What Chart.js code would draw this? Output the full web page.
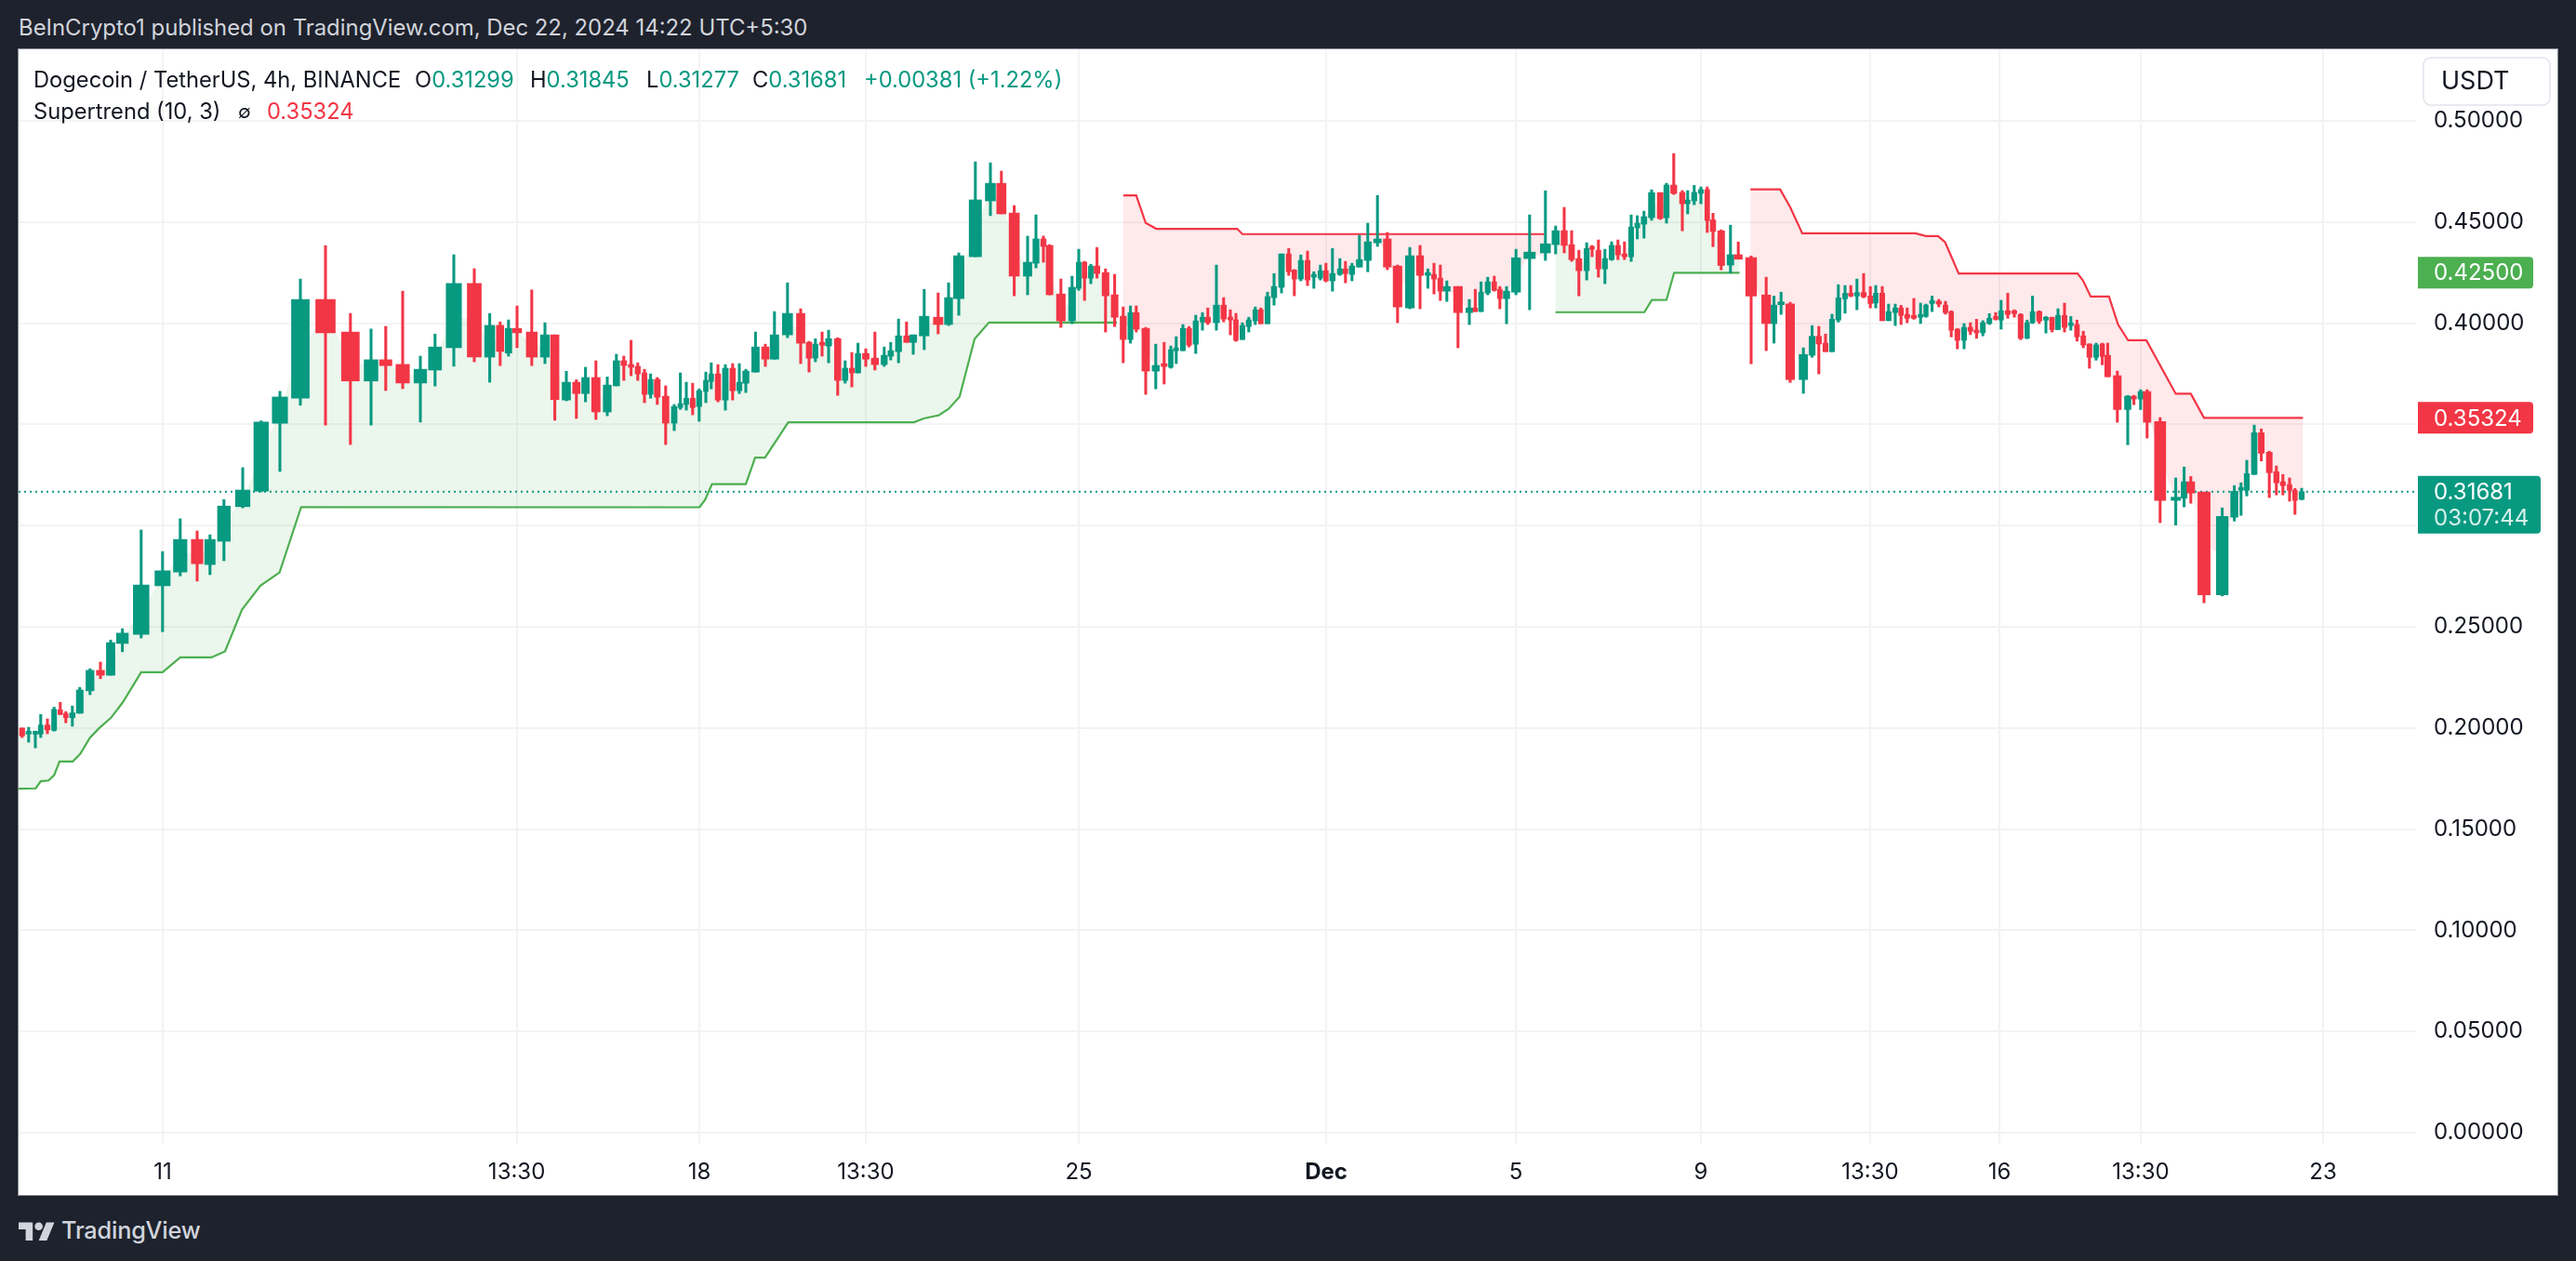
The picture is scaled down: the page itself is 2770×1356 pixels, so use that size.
<!DOCTYPE html>
<html>
<head>
<meta charset="utf-8">
<title>Dogecoin / TetherUS</title>
<script src="https://cdn.jsdelivr.net/npm/chart.js@4"></script>
<style>
  html, body { margin: 0; padding: 0; width: 2770px; height: 1356px; overflow: hidden; background: #1e222d; font-family: Inter, sans-serif; }
  #topline { position: absolute; left: 20px; top: 15px; font-size: 23.9px; line-height: 30px; color: #d1d4dc; white-space: nowrap; }
  #panel { position: absolute; left: 20px; top: 53px; width: 2730px; height: 1232px; background: #fff; box-shadow: 0 0 0 1px #868993; }
  #panel canvas { position: absolute; left: 0; top: 0; }
  .lg { position: absolute; font-size: 23.7px; line-height: 30px; color: #131722; white-space: nowrap; }
  .up { color: #089981; }
  .dn { color: #f23645; }
  #brand { position: absolute; left: 20px; top: 1306px; height: 34px; color: #d1d4dc; font-size: 25.3px; font-weight: 500; line-height: 34px; }
  #brand svg { position: absolute; left: 0; top: 4px; }
  #brand span { position: absolute; left: 46px; top: 0; letter-spacing: -0.2px; }
</style>
</head>
<body>
<div id="topline">BeInCrypto1 published on TradingView.com, Dec 22, 2024 14:22 UTC+5:30</div>
<div id="panel">
  <canvas id="chart" width="2730" height="1232"></canvas>
  <div class="lg" style="left:16px;top:18px">Dogecoin / TetherUS, 4h, BINANCE</div>
  <div class="lg" style="left:426px;top:18px">O<span class="up">0.31299</span></div>
  <div class="lg" style="left:550px;top:18px">H<span class="up">0.31845</span></div>
  <div class="lg" style="left:675px;top:18px">L<span class="up">0.31277</span></div>
  <div class="lg" style="left:789px;top:18px">C<span class="up">0.31681</span></div>
  <div class="lg up" style="left:909px;top:18px">+0.00381 (+1.22%)</div>
  <div class="lg" style="left:16px;top:52px">Supertrend (10, 3)</div>
  <div class="lg" style="left:236px;top:52px;font-size:20px">∅</div>
  <div class="lg dn" style="left:267px;top:52px">0.35324</div>
</div>
<div id="brand">
  <svg width="39" height="25" viewBox="0 0 36 23" fill="#d1d4dc"><path d="M14 22H7V11H0V4h14v18zM28 22h-8l7.5-18h8L28 22z"/><circle cx="20" cy="8" r="4"/></svg>
  <span>TradingView</span>
</div>
<script>
// Time axis is not even on this chart, so bars sit at read-off positions along it
const barPos = [
  1.9,5.4,9.0,11.9,15.5,19.1,22.4,25.4,28.9,32.9,
  38.4,44.0,49.5,55.8,65.9,77.4,86.9,96.0,102.9,110.4,
  120.5,130.4,140.5,151.5,165.0,178.4,189.5,197.4,206.5,216.0,
  223.9,234.0,245.0,253.3,258.9,263.4,268.0,275.9,283.0,288.3,
  294.5,299.9,304.8,310.4,316.5,321.4,325.4,329.3,332.9,336.5,
  339.8,343.4,347.9,352.5,355.8,359.0,362.4,365.9,369.5,372.4,
  376.0,380.0,383.9,387.5,391.0,396.2,401.5,406.4,413.4,420.5,
  425.0,428.4,432.0,435.5,440.4,444.4,448.0,451.3,455.5,460.4,
  465.4,468.9,473.1,477.4,481.0,486.9,494.4,500.0,505.5,514.4,
  522.5,528.4,535.3,542.5,547.0,551.0,554.3,560.4,566.4,570.0,
  573.1,576.5,579.8,584.4,589.3,593.9,597.8,600.9,606.0,611.4,
  615.9,619.5,622.4,626.0,629.3,632.9,636.5,639.4,644.0,647.9,
  651.5,654.5,658.0,661.4,664.9,667.9,671.5,675.0,679.0,682.9,
  685.9,689.4,693.0,696.4,699.9,702.9,706.4,710.4,713.4,716.9,
  720.9,725.4,730.6,735.9,741.4,748.0,753.5,757.7,761.0,764.4,
  767.9,773.9,780.0,783.2,786.3,789.9,793.4,796.4,800.0,805.1,
  812.4,820.9,826.4,831.0,835.0,838.9,843.1,846.0,849.4,852.9,
  856.5,859.9,863.4,867.0,870.3,873.9,878.0,882.6,886.0,889.9,
  894.5,897.4,900.9,904.5,907.9,911.0,915.4,920.4,924.6,931.5,
  939.6,943.8,947.6,952.5,959.6,964.3,967.9,971.5,975.0,978.4,
  982.0,985.1,988.4,992.0,995.6,998.5,1002.0,1005.4,1009.0,1012.1,
  1015.4,1019.0,1022.6,1025.5,1028.8,1032.4,1036.0,1039.1,1042.4,1046.0,
  1049.4,1052.7,1056.1,1059.6,1063.0,1065.9,1069.5,1073.0,1076.4,1079.9,
  1082.8,1086.4,1090.0,1093.3,1096.5,1100.0,1103.4,1106.7,1110.1,1113.4,
  1117.0,1120.3,1123.2,1128.4,1134.0,1137.3,1140.9,1144.4,1151.4,1159.8,
  1164.3,1167.9,1175.0,1184.8,1191.3,1194.9,1198.0,1202.0,1205.8,1210.1,
  1213.9,1217.4,1221.0,1223.9,1227.5
];

const opens = [
  .1995,.1965,.1965,.1965,.2010,.1984,.2085,.2066,.2046,.2068,
  .2179,.2280,.2256,.2413,.2458,.2698,.2766,.2927,.2803,.2918,
  .3089,.3166,.3501,.3625,.4113,.3952,.3710,.3815,.3792,.3700,
  .3764,.3875,.4192,.3828,.3985,.3848,.3970,.3952,.3828,.3938,
  .3616,.3704,.3648,.3727,.3557,.3686,.3810,.3791,.3782,.3750,
  .3644,.3718,.3635,.3502,.3579,.3594,.3625,.3584,.3658,.3708,
  .3745,.3616,.3773,.3662,.3699,.3754,.3878,.3818,.3938,.4044,
  .3901,.3823,.3897,.3883,.3919,.3713,.3773,.3750,.3846,.3823,
  .3791,.3833,.3855,.3933,.3901,.3933,.4025,.3989,.4117,.4324,
  .4600,.4687,.4540,.4228,.4292,.4412,.4380,.4140,.4007,.4168,
  .4297,.4218,.4278,.4246,.4136,.4030,.3915,.4048,.3970,.3759,
  .3791,.3778,.3860,.3860,.3970,.3892,.4002,.4025,.3998,.4085,
  .4021,.4012,.3915,.3979,.4007,.4062,.3993,.4122,.4173,.4338,
  .4258,.4214,.4306,.4223,.4218,.4255,.4205,.4237,.4264,.4237,
  .4273,.4306,.4393,.4412,.4278,.4071,.4329,.4232,.4237,.4218,
  .4154,.4177,.4048,.4071,.4053,.4145,.4200,.4163,.4117,.4149,
  .4315,.4343,.4384,.4453,.4384,.4315,.4255,.4370,.4356,.4264,
  .4310,.4380,.4338,.4324,.4467,.4485,.4517,.4641,.4517,.4678,
  .4642,.4586,.4600,.4637,.4656,.4506,.4452,.4283,.4334,.4320,
  .4135,.3994,.4087,.4091,.3717,.3837,.3931,.3897,.3855,.4011,
  .4116,.4143,.4130,.4147,.4130,.4095,.4144,.4008,.4048,.4071,
  .4039,.4029,.4025,.4029,.4093,.4099,.4085,.4053,.3966,.3911,
  .3975,.3961,.3948,.3994,.4025,.4011,.4057,.4048,.4039,.3921,
  .3998,.4053,.4011,.4025,.3964,.4034,.3984,.3989,.3933,.3893,
  .3827,.3893,.3837,.3736,.3569,.3635,.3621,.3658,.3510,.3120,
  .3131,.3212,.3161,.2653,.3037,.3170,.3170,.3248,.3454,.3358,
  .3262,.3212,.3198,.3170,.3125
];

const closes = [
  .1957,.1971,.1971,.2010,.1986,.2087,.2062,.2046,.2070,.2183,
  .2280,.2256,.2417,.2464,.2702,.2772,.2927,.2807,.2927,.3092,
  .3171,.3507,.3631,.4113,.3948,.3710,.3815,.3786,.3700,.3768,
  .3878,.4192,.3828,.3985,.3856,.3970,.3948,.3828,.3938,.3618,
  .3704,.3648,.3727,.3557,.3690,.3810,.3787,.3778,.3745,.3644,
  .3718,.3630,.3502,.3584,.3598,.3625,.3579,.3662,.3713,.3745,
  .3616,.3773,.3662,.3704,.3759,.3878,.3818,.3938,.4044,.3897,
  .3823,.3892,.3887,.3919,.3713,.3773,.3750,.3846,.3818,.3791,
  .3837,.3860,.3933,.3901,.3938,.4030,.3989,.4122,.4329,.4605,
  .4687,.4536,.4228,.4297,.4412,.4375,.4136,.4007,.4173,.4297,
  .4218,.4278,.4241,.4131,.4025,.3915,.4048,.3966,.3759,.3787,
  .3782,.3865,.3869,.3970,.3887,.4007,.4025,.3998,.4085,.4016,
  .4012,.3911,.3984,.4012,.4062,.3993,.4127,.4177,.4338,.4250,
  .4214,.4306,.4209,.4228,.4255,.4205,.4241,.4264,.4241,.4278,
  .4310,.4398,.4412,.4273,.4076,.4329,.4232,.4241,.4214,.4154,
  .4177,.4048,.4071,.4053,.4149,.4200,.4158,.4117,.4154,.4319,
  .4347,.4388,.4453,.4380,.4310,.4255,.4365,.4361,.4264,.4315,
  .4380,.4333,.4324,.4471,.4490,.4522,.4641,.4513,.4678,.4637,
  .4586,.4604,.4642,.4656,.4503,.4449,.4281,.4334,.4312,.4130,
  .3994,.4085,.4095,.3717,.3841,.3931,.3893,.3855,.4015,.4121,
  .4143,.4130,.4147,.4126,.4093,.4144,.4008,.4053,.4071,.4034,
  .4020,.4020,.4034,.4085,.4099,.4090,.4048,.3961,.3911,.3975,
  .3956,.3948,.3998,.4020,.4015,.4057,.4039,.4043,.3921,.3998,
  .4053,.4006,.4025,.3964,.4034,.3975,.3994,.3928,.3888,.3827,
  .3888,.3832,.3731,.3569,.3635,.3621,.3658,.3506,.3120,.3136,
  .3212,.3156,.2653,.3041,.3165,.3178,.3252,.3454,.3353,.3257,
  .3207,.3193,.3170,.3120,.3163
];

const highs = [
  .1995,.1999,.1980,.2062,.2040,.2098,.2122,.2076,.2104,.2196,
  .2288,.2321,.2430,.2486,.2974,.2867,.3029,.2969,.2950,.3124,
  .3282,.3513,.3659,.4214,.4379,.4044,.3967,.3980,.4154,.3833,
  .3942,.4334,.4265,.4044,.4002,.4012,.4081,.4160,.3998,.3938,
  .3758,.3716,.3778,.3810,.3730,.3842,.3833,.3911,.3800,.3768,
  .3745,.3727,.3686,.3594,.3750,.3704,.3699,.3671,.3754,.3800,
  .3791,.3791,.3796,.3796,.3768,.3952,.3892,.4053,.4195,.4067,
  .3906,.3919,.3952,.3961,.3924,.3810,.3851,.3897,.3869,.3952,
  .3878,.3901,.4016,.4002,.3938,.4163,.4145,.4195,.4343,.4793,
  .4788,.4747,.4577,.4426,.4531,.4426,.4384,.4214,.4228,.4361,
  .4301,.4287,.4370,.4264,.4237,.4076,.4081,.4081,.3975,.3892,
  .3901,.3883,.3929,.3989,.3979,.4035,.4048,.4071,.4283,.4122,
  .4062,.4044,.3998,.4025,.4076,.4071,.4149,.4241,.4338,.4365,
  .4261,.4333,.4352,.4250,.4283,.4292,.4365,.4315,.4301,.4292,
  .4430,.4490,.4627,.4444,.4283,.4370,.4380,.4264,.4292,.4283,
  .4205,.4177,.4113,.4163,.4200,.4223,.4228,.4177,.4177,.4361,
  .4531,.4650,.4476,.4568,.4453,.4356,.4393,.4380,.4407,.4361,
  .4398,.4407,.4398,.4531,.4527,.4549,.4655,.4641,.4687,.4834,
  .4651,.4651,.4677,.4669,.4669,.4539,.4457,.4480,.4397,.4328,
  .4223,.4130,.4149,.4099,.3874,.3984,.3980,.3942,.4040,.4186,
  .4182,.4182,.4214,.4241,.4177,.4182,.4177,.4090,.4090,.4084,
  .4071,.4118,.4095,.4090,.4130,.4113,.4104,.4057,.3970,.3994,
  .3998,.4015,.4008,.4043,.4048,.4109,.4144,.4062,.4043,.4011,
  .4130,.4057,.4029,.4025,.4067,.4095,.4029,.4011,.3956,.3893,
  .3897,.3897,.3897,.3759,.3639,.3639,.3667,.3667,.3529,.3231,
  .3285,.3238,.3161,.3083,.3193,.3207,.3318,.3492,.3473,.3363,
  .3290,.3248,.3231,.3179,.3180
];

const lows = [
  .1948,.1925,.1897,.1948,.1967,.1980,.2062,.2021,.2004,.2068,
  .2160,.2239,.2256,.2372,.2440,.2471,.2747,.2721,.2753,.2822,
  .3083,.3162,.3263,.3590,.3492,.3396,.3492,.3663,.3672,.3507,
  .3685,.3783,.3805,.3704,.3786,.3833,.3875,.3786,.3796,.3516,
  .3612,.3525,.3607,.3520,.3538,.3686,.3713,.3736,.3713,.3603,
  .3625,.3594,.3396,.3465,.3570,.3566,.3543,.3511,.3603,.3671,
  .3607,.3566,.3616,.3648,.3653,.3754,.3782,.3818,.3924,.3796,
  .3754,.3805,.3833,.3800,.3639,.3699,.3681,.3750,.3782,.3764,
  .3782,.3814,.3800,.3901,.3842,.3865,.3943,.3984,.4035,.4324,
  .4527,.4536,.4131,.4136,.4269,.4297,.4136,.3975,.3993,.4158,
  .4108,.4191,.4218,.3952,.3979,.3800,.3897,.3952,.3644,.3671,
  .3695,.3773,.3796,.3860,.3878,.3846,.3961,.3989,.3961,.4002,
  .3938,.3906,.3915,.3952,.3989,.3993,.3993,.4085,.4145,.4232,
  .4131,.4205,.4182,.4168,.4209,.4200,.4154,.4232,.4195,.4205,
  .4273,.4250,.4375,.4260,.3998,.4067,.4067,.4168,.4140,.4108,
  .4103,.3874,.3989,.4053,.4053,.4136,.4154,.4067,.3993,.4136,
  .4062,.4306,.4338,.4343,.4301,.4131,.4209,.4324,.4223,.4191,
  .4306,.4310,.4310,.4301,.4412,.4416,.4504,.4508,.4490,.4632,
  .4452,.4536,.4581,.4586,.4444,.4374,.4259,.4244,.4312,.3795,
  .3860,.3897,.4039,.3703,.3649,.3827,.3745,.3855,.3855,.4001,
  .4045,.4126,.4062,.4121,.4071,.4071,.4008,.4008,.3984,.3989,
  .3998,.4015,.3994,.4025,.4053,.4076,.4040,.3928,.3869,.3869,
  .3939,.3921,.3933,.3989,.4011,.3966,.4020,.4025,.3914,.3919,
  .3994,.3994,.3947,.3952,.3964,.3952,.3961,.3907,.3874,.3773,
  .3813,.3790,.3731,.3506,.3395,.3593,.3569,.3428,.3010,.2998,
  .3088,.3106,.2614,.2648,.3018,.3046,.3142,.3248,.3315,.3134,
  .3147,.3147,.3116,.3051,.3123
];

/*--------------------- Supertrend (10, 3), one pair of lists per run ---------------------*/
const upRun1Pos = [0,9.2,11.9,16.1,19.1,22.0,29.1,33.1,38.4,43.4,49.7,56.0,65.9,77.4,86.9,103.7,111.0,120.1,130.0,140.3,151.9,366.1,369.1,372.8,391.0,396.0,401.3,413.8,481.4,486.7,494.8,500.0,505.9,514.0,521.7,590.5];
const upRun1Val = [.1695,.1697,.1732,.1736,.1762,.1830,.1830,.1867,.1948,.1995,.2046,.2122,.2271,.2271,.2344,.2344,.2374,.2580,.2698,.2764,.3087,.3086,.3123,.3200,.3200,.3331,.3331,.3506,.3506,.3525,.3541,.3572,.3632,.3918,.3999,.3999];
const downRun1Pos = [594.0,600.9,606.0,611.7,655.2,658.0,820.3];
const downRun1Val = [.4627,.4627,.4491,.4462,.4462,.4436,.4436];
const upRun2Pos = [826.3,874.1,878.1,886.0,890.1,925.3];
const upRun2Val = [.4050,.4050,.4110,.4111,.4245,.4245];
const downRun2Pos = [931.1,947.1,952.5,959.0,1019.9,1025.5,1032.0,1035.8,1043.1,1107.0,1109.9,1114.1,1123.9,1128.8,1134.2,1144.0,1159.8,1167.9,1175.0,1228.2];
const downRun2Val = [.4657,.4657,.4569,.4440,.4440,.4426,.4426,.4396,.4241,.4241,.4207,.4127,.4127,.3989,.3911,.3911,.3647,.3647,.3528,.3528];

// prices above were read against a grid line one pixel off
const readShift = 0.00046;

const priceTicks = [0,.05,.10,.15,.20,.25,.30,.35,.40,.45,.50];
const dateTickPos = [77.5,267.8,366,455.5,570,703,805,904.5,995.5,1065,1141,1239];
const dateLabels = ['11','13:30','18','13:30','25','Dec','5','9','13:30','16','13:30','23'];

const lastClose = 0.31681;
const countdown = '03:07:44';
const lastTrendUp = 0.425;
const lastTrendDown = 0.35324;

const UP = '#089981';
const DOWN = '#f23645';
const TREND_UP = '#4caf50';
const GRID = '#f3f3f4';

const isUp = i => closes[i] >= opens[i];
const candleColor = ctx => isUp(ctx.dataIndex) ? UP : DOWN;

const datasets = [];

// one supertrend run plus the hidden body-middle line its band fills up to
function addTrendRun(posList, valList, color, band) {
  const first = posList[0];
  const last = posList[posList.length - 1];
  const inside = barPos.map((x, i) => i).filter(i => barPos[i] >= first && barPos[i] <= last);
  const mid = i => (opens[i] + closes[i]) / 2 + readShift;
  const midPoints = inside.map(i => ({ x: barPos[i], y: mid(i) }));
  midPoints.unshift({ x: first, y: mid(inside[0]) });
  midPoints.push({ x: last, y: mid(inside[inside.length - 1]) });

  const midIndex = datasets.length;
  datasets.push({
    type: 'line', data: midPoints, order: 6,
    borderColor: 'transparent', borderWidth: 0, pointRadius: 0, fill: false
  });
  datasets.push({
    type: 'line', order: 5,
    data: posList.map((x, i) => ({ x: x, y: valList[i] + readShift })),
    borderColor: color, borderWidth: 2.2, pointRadius: 0, tension: 0,
    backgroundColor: band, fill: midIndex
  });
}

addTrendRun(upRun1Pos, upRun1Val, TREND_UP, 'rgba(76,175,80,0.11)');
addTrendRun(downRun1Pos, downRun1Val, DOWN, 'rgba(242,54,69,0.11)');
addTrendRun(upRun2Pos, upRun2Val, TREND_UP, 'rgba(76,175,80,0.11)');
addTrendRun(downRun2Pos, downRun2Val, DOWN, 'rgba(242,54,69,0.11)');

// last price line
datasets.push({
  type: 'line', order: 3,
  data: [{ x: 0, y: lastClose }, { x: 1289, y: lastClose }],
  borderColor: UP, borderWidth: 2, borderDash: [2, 4], pointRadius: 0, fill: false
});

// wicks, then bodies
datasets.push({
  type: 'bar', order: 2, grouped: false, barThickness: 2.4,
  data: barPos.map((x, i) => ({ x: x, y: [lows[i] + readShift, highs[i] + readShift] })),
  backgroundColor: candleColor, borderWidth: 0
});
const bodyIndex = datasets.length;
datasets.push({
  type: 'bar', order: 1, grouped: false, barThickness: 6, minBarLength: 3,
  data: barPos.map((x, i) => ({ x: x, y: [opens[i] + readShift, closes[i] + readShift] })),
  backgroundColor: candleColor, borderWidth: 0
});

// bars here get wider where the axis gives them more room
const bodyWidths = {
  id: 'bodyWidths',
  afterDatasetsUpdate(chart) {
    const scale = chart.scales.x;
    const bars = chart.getDatasetMeta(bodyIndex).data;
    bars.forEach((bar, i) => {
      const prev = barPos[Math.max(i - 1, 0)];
      const next = barPos[Math.min(i + 1, barPos.length - 1)];
      const span = (i === 0 || i === barPos.length - 1) ? (next - prev) : (next - prev) / 2;
      bar.width = (scale.getPixelForValue(barPos[i] + span) - scale.getPixelForValue(barPos[i])) * 0.78;
    });
  }
};

function tag(ctx, left, top, w, h, color) {
  ctx.fillStyle = color;
  ctx.beginPath();
  ctx.roundRect(left, top, w, h, [0, 4, 4, 0]);
  ctx.fill();
}

// currency button and price labels on the right axis
const priceTags = {
  id: 'priceTags',
  afterDraw(chart) {
    const ctx = chart.ctx;
    const y = chart.scales.y;
    const left = y.left + 2;
    const textX = left + 17;
    ctx.save();
    ctx.font = '24px Inter';
    ctx.textBaseline = 'middle';
    ctx.textAlign = 'left';

    [[lastTrendUp, TREND_UP], [lastTrendDown, DOWN]].forEach(([val, color]) => {
      const py = y.getPixelForValue(val);
      tag(ctx, left, py - 17, 124, 34, color);
      ctx.fillStyle = '#fff';
      ctx.fillText(val.toFixed(5), textX, py + 1);
    });

    const py = y.getPixelForValue(lastClose);
    tag(ctx, left, py - 17, 132, 62, UP);
    ctx.fillStyle = '#fff';
    ctx.fillText(lastClose.toFixed(5), textX, py + 1);
    ctx.fillStyle = '#d5f0ea';
    ctx.fillText(countdown, textX, py + 29);

    ctx.strokeStyle = '#e0e3eb';
    ctx.lineWidth = 1.5;
    ctx.fillStyle = '#fff';
    ctx.beginPath();
    ctx.roundRect(left + 6, 9, 136, 51, 8);
    ctx.fill();
    ctx.stroke();
    ctx.fillStyle = '#131722';
    ctx.font = '27px Inter';
    ctx.fillText('USDT', left + 25, 35);
    ctx.restore();
  }
};

Chart.defaults.font.family = 'Inter, sans-serif';

new Chart(document.getElementById('chart').getContext('2d'), {
  type: 'bar',
  data: { datasets: datasets },
  plugins: [bodyWidths, priceTags],
  options: {
    responsive: false,
    devicePixelRatio: 1,
    animation: false,
    layout: { padding: 0 },
    plugins: { legend: { display: false }, tooltip: { enabled: false } },
    scales: {
      x: {
        type: 'linear',
        min: 0,
        max: 1289,
        offset: false,
        grid: { color: GRID, lineWidth: 2, drawTicks: false, offset: false },
        border: { display: false },
        afterBuildTicks: s => { s.ticks = dateTickPos.map(v => ({ value: v })); },
        afterFit: s => { s.height = 55; s.paddingLeft = 0; s.paddingRight = 0; },
        ticks: {
          autoSkip: false,
          maxRotation: 0,
          padding: 16,
          color: '#131722',
          font: ctx => ({ size: 24, weight: dateLabels[ctx.index] === 'Dec' ? '700' : '400' }),
          callback: (v, i) => dateLabels[i]
        }
      },
      y: {
        position: 'right',
        min: -0.00551,
        max: 0.53539,
        grid: { color: GRID, lineWidth: 2, drawTicks: false },
        border: { display: false },
        afterBuildTicks: s => { s.ticks = priceTicks.map(v => ({ value: v })); },
        afterFit: s => { s.width = 152; s.paddingTop = 0; s.paddingBottom = 0; },
        ticks: {
          padding: 19,
          color: '#131722',
          font: { size: 24 },
          callback: v => v.toFixed(5)
        }
      }
    }
  }
});
</script>
</body>
</html>
